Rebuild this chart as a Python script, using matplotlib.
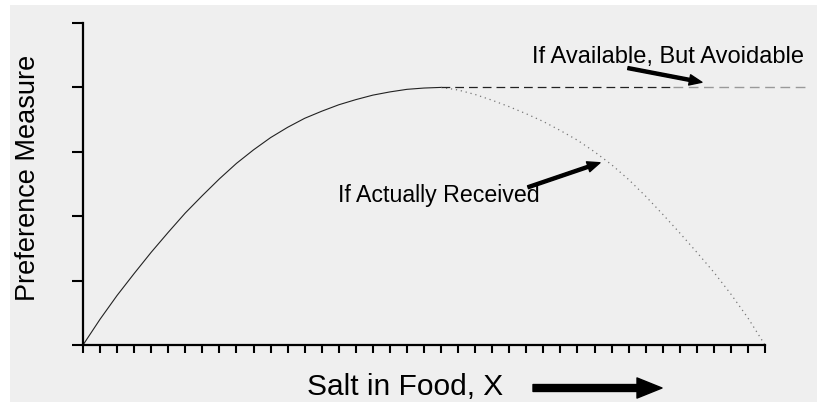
import matplotlib
matplotlib.use("Agg")
import matplotlib.pyplot as plt
from matplotlib.patches import Rectangle

plt.rcParams["font.family"] = ["Liberation Sans", "DejaVu Sans"]

# ------------------------------------------------------------------
# Data (x in tick steps, y in tick steps)
# ------------------------------------------------------------------
rise_x = [0, 1, 2, 3, 4, 5, 6, 7, 8, 9, 10, 11, 12, 13, 14, 15, 16, 17,
          18, 19, 20, 21]
rise_y = [0, 0.40, 0.77, 1.11, 1.44, 1.75, 2.05, 2.32, 2.58, 2.82, 3.03,
          3.22, 3.38, 3.52, 3.63, 3.73, 3.81, 3.88, 3.93, 3.97, 3.99, 4.0]

fall_x = [21, 22, 23, 24, 25, 26, 27, 28, 29, 30, 31, 32, 33, 34, 35, 36,
          37, 38, 39, 40]
fall_y = [4.0, 3.96, 3.89, 3.80, 3.70, 3.59, 3.47, 3.33, 3.18, 3.00, 2.80,
          2.57, 2.31, 2.03, 1.74, 1.44, 1.13, 0.79, 0.42, 0]

plateau_dark_x = [21, 34.6]
plateau_light_x = [34.6, 42.6]
plateau_y = 4.0

x_ticks = list(range(0, 41))
y_ticks = list(range(0, 6))

label_available = "If Available, But Avoidable"
label_received = "If Actually Received"
x_label = "Salt in Food, X"
y_label = "Preference Measure"

# ------------------------------------------------------------------
# Figure
# ------------------------------------------------------------------
W, H = 817, 403
fig = plt.figure(figsize=(W / 100, H / 100), dpi=100, facecolor="white")
fig.patches.append(Rectangle((10 / W, 1 / H), 807 / W, 397 / H,
                             transform=fig.transFigure, facecolor="#efefef",
                             edgecolor="none", zorder=-10))

ax = fig.add_axes([83 / W, (H - 345) / H, 682 / W, 322 / H])
ax.set_facecolor("none")
ax.set_xlim(0, 40)
ax.set_ylim(0, 5)

ax.plot(rise_x, rise_y, color="#222222", lw=0.8)
ax.plot(fall_x, fall_y, color="#777777", lw=0.9, ls=(0, (1, 3)))
ax.plot(plateau_dark_x, [plateau_y] * 2, color="#222222", lw=0.9,
        ls=(0, (7, 4)), clip_on=False)
ax.plot(plateau_light_x, [plateau_y] * 2, color="#999999", lw=1.0,
        ls=(0, (7, 4)), clip_on=False)

for s in ("top", "right"):
    ax.spines[s].set_visible(False)
for s in ("left", "bottom"):
    ax.spines[s].set_linewidth(1.6)
    ax.spines[s].set_color("black")

ax.set_xticks(x_ticks)
ax.set_yticks(y_ticks)
ax.tick_params(axis="x", direction="out", length=6, width=1.5,
               labelbottom=False)
ax.tick_params(axis="y", direction="out", length=8, width=1.5,
               labelleft=False)

# annotations with arrows
small_arrow = dict(arrowstyle="simple,head_length=0.9,head_width=0.75,tail_width=0.22",
                   color="black", shrinkA=0, shrinkB=0, mutation_scale=10)
ax.annotate("", xy=(36.3, 4.08), xytext=(31.96, 4.30), arrowprops=small_arrow,
            annotation_clip=False)
ax.annotate("", xy=(30.32, 2.83), xytext=(26.1, 2.45), arrowprops=small_arrow)
ax.text(26.33, 4.38, label_available, fontsize=17, ha="left", va="baseline")
ax.text(14.96, 2.225, label_received, fontsize=16.7, ha="left", va="baseline")

# axis labels
fig.text(307 / W, (H - 395) / H, x_label, fontsize=21.5, ha="left",
         va="baseline")
fig.text(28 / W, (H - 178) / H, y_label, fontsize=19.5, rotation=90,
         ha="center", va="center")

big_arrow = dict(arrowstyle="simple,head_length=1.8,head_width=1.45,tail_width=0.5",
                 color="black", shrinkA=0, shrinkB=0, mutation_scale=10)
ax.annotate("", xy=(662, H - 388), xytext=(533, H - 388),
            xycoords="figure pixels", textcoords="figure pixels",
            arrowprops=big_arrow, annotation_clip=False)

fig.savefig("out.png", dpi=100, facecolor="white")
